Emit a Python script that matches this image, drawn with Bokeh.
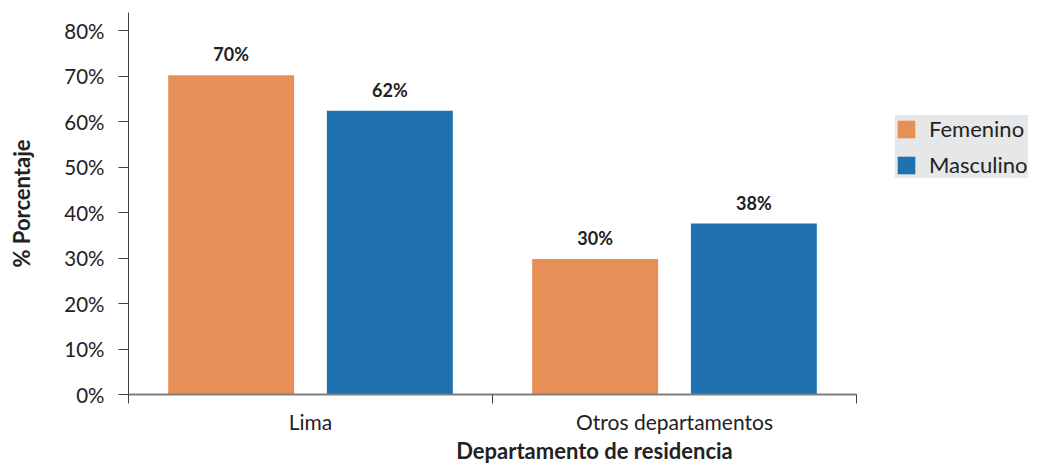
from bokeh.plotting import figure
from bokeh.models import (ColumnDataSource, FixedTicker, Legend, LegendItem,
                          LinearAxis, Range1d)
from bokeh.transform import dodge
from bokeh.core.properties import value
from bokeh.embed import file_html
from bokeh.resources import INLINE

categories = ["Lima", "Otros departamentos"]
femenino = [70.2, 29.8]
masculino = [62.4, 37.6]
series_names = ["Femenino", "Masculino"]
y_ticks = [0, 10, 20, 30, 40, 50, 60, 70, 80]

COL_F = "#E68F57"
COL_M = "#1F71B0"
FONT = "Lato"
TXT = "#222222"

xs = [i + 0.5 for i in range(len(categories))]
src = ColumnDataSource(dict(
    x=xs,
    fem=femenino,
    mas=masculino,
    fem_lbl=[f"{round(v)}%" for v in femenino],
    mas_lbl=[f"{round(v)}%" for v in masculino],
))

W, H = 1060, 466
UNIT = 364.0
p = figure(width=W, height=H, output_backend="svg", toolbar_location=None,
           x_range=Range1d(0, (W - 128) / UNIT), y_range=Range1d(0, 84),
           x_axis_type=None, y_axis_type=None,
           min_border_left=128, min_border_right=0, min_border_top=12,
           min_border_bottom=H - 395)
p.outline_line_color = None
p.grid.visible = False
p.background_fill_color = "white"
p.border_fill_color = "white"

bw = 0.346
off = 0.218
rf = p.vbar(x=dodge("x", -off), top="fem", width=bw, source=src,
            fill_color=COL_F, line_color=None)
rm = p.vbar(x=dodge("x", off), top="mas", width=bw, source=src,
            fill_color=COL_M, line_color=None)

lbl_kw = dict(source=src, text_align="center", text_baseline="bottom",
              text_font=value(FONT), text_font_size="18px",
              text_font_style="bold", text_color=TXT, y_offset=-10)
p.text(x=dodge("x", -off), y="fem", text="fem_lbl", **lbl_kw)
p.text(x=dodge("x", off), y="mas", text="mas_lbl", **lbl_kw)

# y axis
yax = LinearAxis(ticker=FixedTicker(ticks=y_ticks, minor_ticks=[]),
                 bounds=(0, 84))
yax.major_label_overrides = {t: f"{t}%" for t in y_ticks}
yax.axis_line_color = "#404040"
yax.axis_line_width = 1
yax.major_tick_line_color = "#404040"
yax.major_tick_out = 10
yax.major_tick_in = 0
yax.major_label_standoff = 14
yax.major_label_text_font = FONT
yax.major_label_text_font_size = "20.5px"
yax.major_label_text_color = TXT
yax.axis_label = "% Porcentaje"
yax.axis_label_text_font = FONT
yax.axis_label_text_font_size = "22px"
yax.axis_label_text_font_style = "bold"
yax.axis_label_text_color = TXT
yax.axis_label_standoff = 26
p.add_layout(yax, "left")

# x axis: labels at category centres, boundary ticks as minor ticks
xax = LinearAxis(ticker=FixedTicker(ticks=xs,
                                    minor_ticks=[float(i) for i in range(len(categories) + 1)]),
                 bounds=(0, len(categories)))
xax.major_label_overrides = {x: c for x, c in zip(xs, categories)}
xax.axis_line_color = "#7F7F7F"
xax.axis_line_width = 2
xax.major_tick_out = 0
xax.major_tick_in = 0
xax.minor_tick_out = 9
xax.minor_tick_in = 0
xax.minor_tick_line_color = "#404040"
xax.major_label_standoff = 5
xax.major_label_text_font = FONT
xax.major_label_text_font_size = "21px"
xax.major_label_text_color = TXT
xax.axis_label = "Departamento de residencia"
xax.axis_label_text_font = FONT
xax.axis_label_text_font_size = "22px"
xax.axis_label_text_font_style = "bold"
xax.axis_label_text_color = TXT
xax.axis_label_standoff = 0
p.add_layout(xax, "below")

legend = Legend(items=[LegendItem(label=series_names[0], renderers=[rf]),
                       LegendItem(label=series_names[1], renderers=[rm])],
                location=(767, 216))
legend.background_fill_color = "#E6E7E9"
legend.background_fill_alpha = 1.0
legend.border_line_color = None
legend.glyph_width = 22
legend.glyph_height = 22
legend.label_standoff = 12
legend.spacing = 9
legend.padding = 20
legend.margin = 0
legend.label_text_font = FONT
legend.label_text_font_size = "22px"
legend.label_text_color = TXT
p.add_layout(legend, "center")

open("out.html", "w").write(file_html(p, INLINE))
